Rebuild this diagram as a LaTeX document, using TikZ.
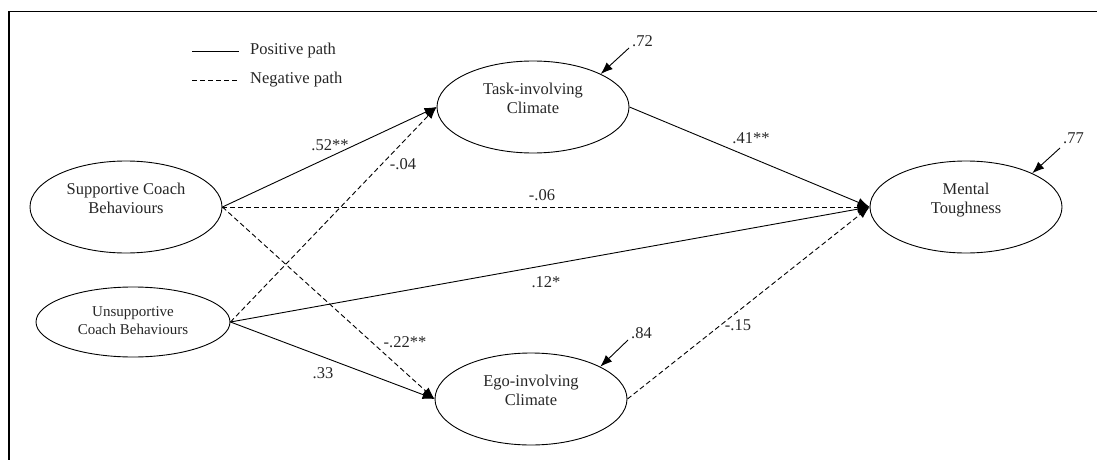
\documentclass[tikz,border=0pt]{standalone}
\usepackage{fontspec}
\setmainfont{Liberation Serif}
\usetikzlibrary{shapes.geometric}
\usetikzlibrary{arrows.meta}
\tikzset{
  every node/.style={
    text=black!85
  },
  latent/.style={draw, ellipse, line width=0.9pt, inner sep=0pt,
    minimum width=192pt, minimum height=92pt, align=center,
    text depth=18pt, font=\fontsize{16.5}{19}\selectfont},
  lbl/.style={inner sep=1pt, font=\fontsize{16.5}{19}\selectfont},
  posline/.style={line width=0.9pt, -{Latex[length=12pt,width=9pt]}},
  negline/.style={posline, dash pattern=on 5pt off 3pt}
}

\begin{document}
\begin{tikzpicture}[x=1pt, y=-1pt]
    \useasboundingbox (0,0) rectangle (1097,460);
    \draw[line width=1.8pt] (1097,11.5) -- (9,11.5) -- (9,460);

    % legend
    \coordinate (sa) at (192,51);
    \coordinate (sb) at (239,51);
    \coordinate (da) at (192,80);
    \coordinate (db) at (239,80);
    \draw[line width=0.9pt] (sa) -- (sb);
    \draw[line width=0.9pt, dash pattern=on 5pt off 3pt] (da) -- (db);
    \node[lbl, anchor=west] (postxt) at (249,51) {Positive path};
    \node[lbl, anchor=west] (negtxt) at (249,80) {Negative path};

    % latent variables
    \node[latent] (sup) at (126,207) {Supportive Coach\\Behaviours};
    \node[latent, minimum width=194pt, minimum height=70pt, text depth=3pt,
      font=\fontsize{15}{18}\selectfont] (unsup) at (133,322) {Unsupportive\\Coach Behaviours};
    \node[latent] (task) at (533,107) {Task-involving\\Climate};
    \node[latent] (ego) at (531,399) {Ego-involving\\Climate};
    \node[latent] (mt) at (966,207) {Mental\\Toughness};

    % paths
    \draw[posline] (sup.east) -- (task.west);
    \draw[negline] (unsup.east) -- (task.west);
    \draw[negline] (sup.east) -- (ego.west);
    \draw[negline] (sup.east) -- (mt.west);
    \draw[posline] (unsup.east) -- (mt.west);
    \draw[posline] (unsup.east) -- (ego.west);
    \draw[posline] (task.east) -- (mt.west);
    \draw[negline] (ego.east) -- (mt.west);

    \node[lbl] (b52) at (330,145) {.52**};
    \node[lbl] (b04) at (403,164) {-.04};
    \node[lbl] (b06) at (542,195) {-.06};
    \node[lbl] (b12) at (546,282) {.12*};
    \node[lbl] (b33) at (323,373) {.33};
    \node[lbl] (b22) at (405,342) {-.22**};
    \node[lbl] (b41) at (751,138) {.41**};
    \node[lbl] (b15) at (738,325) {-.15};

    % residuals
    \coordinate (etask) at (629,48);
    \coordinate (eego) at (628,340);
    \coordinate (emt) at (1060,148);
    \node[lbl, anchor=west] (r72) at (631,41) {.72};
    \node[lbl, anchor=west] (r84) at (630,333) {.84};
    \node[lbl, anchor=west] (r77) at (1062,138) {.77};
    \draw[posline] (etask) -- (task.26);
    \draw[posline] (eego) -- (ego.25);
    \draw[posline] (emt) -- (mt.27);
\end{tikzpicture}
\end{document}
